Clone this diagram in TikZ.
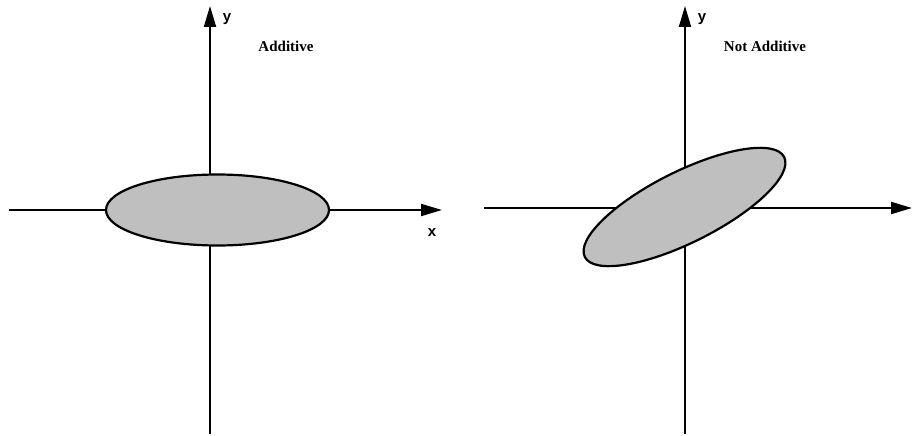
\documentclass[tikz,border=0pt]{standalone}
\usepackage{fontspec}
\setmainfont{Liberation Serif}
\newfontfamily\axfont{Liberation Sans}
\usetikzlibrary{arrows.meta,shapes.geometric}
\begin{document}
\begin{tikzpicture}[x=1pt,y=-1pt,
  axis/.style={line width=2pt,-{Triangle[length=21pt,width=12pt]}},
  blob/.style={ellipse,draw,line width=2.2pt,fill=black!25,minimum width=223pt,minimum height=71pt,inner sep=0pt},
  axlabel/.style={font=\axfont\bfseries\fontsize{15}{15}\selectfont,inner sep=0pt},
  title/.style={font=\bfseries\fontsize{15}{15}\selectfont,inner sep=0pt}]
\useasboundingbox (0,0) rectangle (914,436);
% left panel
\coordinate (lxs) at (9,210);
\coordinate (lxe) at (442,210);
\coordinate (lys) at (210,434);
\coordinate (lye) at (210,6);
\draw[axis] (lxs) -- (lxe);
\draw[axis] (lys) -- (lye);
\node[blob] (le) at (217.5,210) {};
\node[axlabel] (ly) at (227,19) {y};
\node[axlabel] (lx) at (432,233) {x};
\node[title] (lt) at (286,46) {Additive};
% right panel
\coordinate (rxs) at (484,208);
\coordinate (rxe) at (912,208);
\coordinate (rys) at (685,434);
\coordinate (rye) at (685,6);
\draw[axis] (rxs) -- (rxe);
\draw[axis] (rys) -- (rye);
\node[blob,rotate=26.6] (re) at (684.5,207) {};
\node[axlabel] (ry) at (702,19) {y};
\node[title] (rt) at (765,46) {Not Additive};
\end{tikzpicture}
\end{document}
